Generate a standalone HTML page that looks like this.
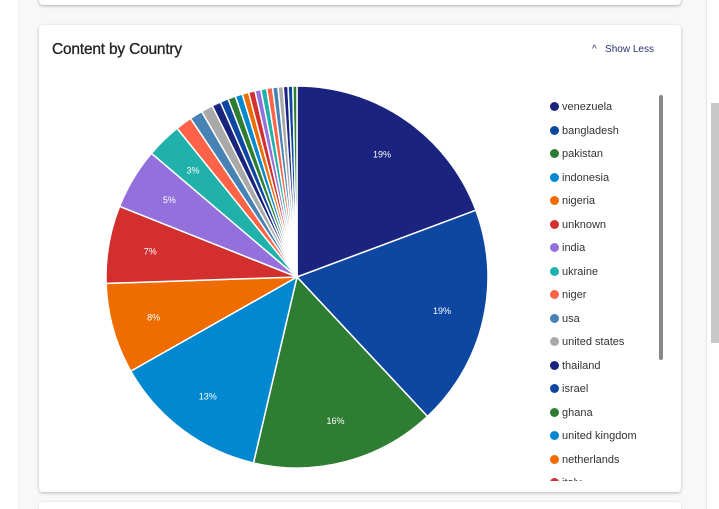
<!DOCTYPE html>
<html style="overflow:hidden"><head><meta charset="utf-8"><style>
html,body{margin:0;width:719px;height:509px;overflow:hidden}
body{background:#fff;font-family:"Liberation Sans",sans-serif;position:relative}
.bg{position:absolute;left:18px;top:0;width:687px;height:509px;background:#f8f8f8;border-left:1px solid #eee;border-right:1px solid #e6e6e6}
.topcard{position:absolute;left:39px;top:-10px;width:642px;height:15px;background:#fff;border-radius:4px;box-shadow:0 1px 3px rgba(0,0,0,.3)}
.card{position:absolute;left:39px;top:25px;width:642px;height:467px;background:#fff;border-radius:4px;box-shadow:0 1px 3px rgba(0,0,0,.25)}
.title{position:absolute;left:13px;top:16px;font-size:15.5px;color:#222;letter-spacing:-0.2px;-webkit-text-stroke:0.3px #222}
.show{position:absolute;left:553px;top:19px;font-size:10px;color:#2a3170}
.legend{position:absolute;left:511px;top:70px;width:120px;height:386px;overflow:hidden}
.li{position:absolute;left:0;font-size:11px;color:#333;height:14px;line-height:14px;white-space:nowrap}
.li i{display:inline-block;width:9px;height:9px;border-radius:50%;margin-right:3px;vertical-align:-1px}
.lsb{position:absolute;left:620px;top:70px;width:4px;height:265px;background:#888;border-radius:2px}
.psb{position:absolute;left:711px;top:103px;width:8px;height:240px;background:#c8c8c8}
.bottomcard{position:absolute;left:39px;top:502px;width:642px;height:7px;background:#fff;box-shadow:0 0 2px rgba(0,0,0,.15)}
</style></head><body>
<div class="bg"></div>
<div class="topcard"></div>
<div class="psb"></div>
<div class="card">
<div class="title">Content by Country</div>
<div class="show">^&nbsp;&nbsp;&nbsp;Show Less</div>
<svg id="pie" width="642" height="467" style="position:absolute;left:0;top:0"></svg>
<div class="legend" id="legend"></div>
<div class="lsb"></div>
</div>
<div class="bottomcard"></div>
<script>
const countries=["venezuela","bangladesh","pakistan","indonesia","nigeria","unknown","india","ukraine","niger","usa","united states","thailand","israel","ghana","united kingdom","netherlands","italy","france","germany","kenya","brazil","canada","spain","turkey","egypt"];
const shares=[19.4,18.8,15.7,13.2,7.7,6.6,5.2,3.0,1.4,1.1,1.0,0.75,0.7,0.65,0.6,0.55,0.55,0.5,0.5,0.5,0.45,0.45,0.4,0.4,0.35];
const palette=["#1a237e","#0d47a1","#2e7d32","#0288d1","#ef6c00","#d32f2f","#9370db","#20b2aa","#ff6347","#4682b4","#a9a9a9"];
const svg=document.getElementById('pie');const NS="http://www.w3.org/2000/svg";
const cx=258,cy=252,r=191;
const total=shares.reduce((a,b)=>a+b,0);
function pt(a,rr){return [cx+rr*Math.sin(a),cy-rr*Math.cos(a)];}
let a0=0;
shares.forEach((v,i)=>{
 const a1=a0+v/total*2*Math.PI;
 const p0=pt(a0,r),p1=pt(a1,r);
 const path=document.createElementNS(NS,'path');
 path.setAttribute('d',`M${cx},${cy}L${p0[0]},${p0[1]}A${r},${r} 0 ${a1-a0>Math.PI?1:0} 1 ${p1[0]},${p1[1]}Z`);
 path.setAttribute('fill',palette[i%palette.length]);
 path.setAttribute('stroke','#fff');path.setAttribute('stroke-width','1.5');
 
 
 svg.appendChild(path);
 const pct=Math.round(v/total*100);
 if(pct>=3){
  const m=(a0+a1)/2,lp=pt(m,r*0.78);
  const t=document.createElementNS(NS,'text');
  t.setAttribute('x',lp[0]);t.setAttribute('y',lp[1]+3);
  t.setAttribute('text-anchor','middle');t.setAttribute('font-size','9');t.setAttribute('fill','#fff');
  t.setAttribute('font-family','Liberation Sans, sans-serif');
  t.textContent=pct+'%';
  
  
  svg.appendChild(t);
 }
 a0=a1;
});
const lg=document.getElementById('legend');
countries.forEach((c,i)=>{
 const d=document.createElement('div');d.className='li';d.style.top=(5+i*23.5)+'px';
 d.innerHTML=`<i style="background:${palette[i%palette.length]}"></i>${c}`;
 
 
 lg.appendChild(d);
});
</script>
</body></html>
